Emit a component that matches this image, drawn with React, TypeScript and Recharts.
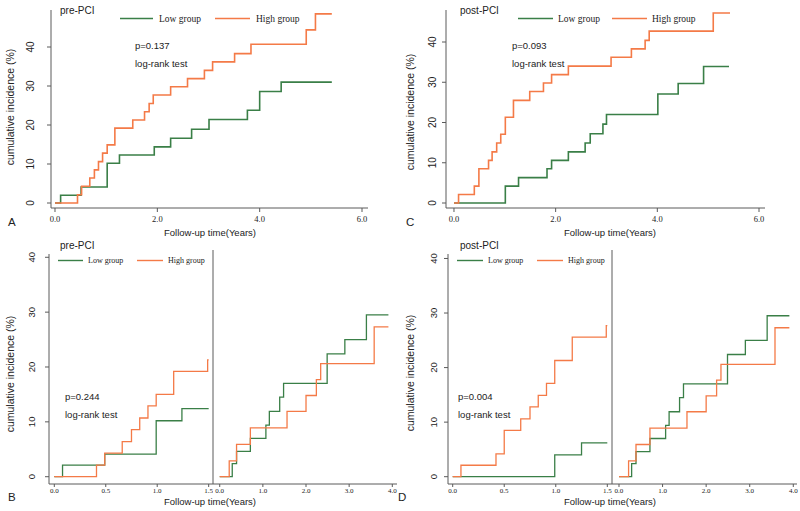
import { LineChart, Line, XAxis, YAxis } from 'recharts'

// A: pre-PCI, whole follow-up
const preLowTime = [0, 0.11, 0.51, 1.02, 1.26, 1.94, 2.26, 2.67, 3.01, 3.76, 4.0, 4.42, 5.41]
const preLowInc = [0, 2.0, 4.1, 10.2, 12.3, 14.4, 16.6, 18.9, 21.4, 23.8, 28.6, 31.0, 31.0]
const preHighTime = [0, 0.44, 0.52, 0.68, 0.77, 0.85, 0.93, 1.02, 1.17, 1.52, 1.75, 1.84, 1.92, 2.26, 2.59, 2.92, 3.08, 3.51, 3.83, 4.91, 5.09, 5.41]
const preHighInc = [0, 2.1, 4.3, 6.4, 8.5, 10.6, 12.8, 14.9, 19.2, 21.3, 23.4, 25.5, 27.7, 29.8, 31.9, 34.0, 36.2, 38.3, 40.7, 44.4, 48.5, 48.5]

// C: post-PCI, whole follow-up
const postLowTime = [0, 1.01, 1.27, 1.83, 1.92, 2.25, 2.58, 2.68, 2.93, 3.0, 4.01, 4.41, 4.91, 5.41]
const postLowInc = [0, 4.2, 6.3, 8.5, 10.6, 12.7, 14.9, 17.2, 19.6, 22.0, 27.1, 29.7, 33.9, 33.9]
const postHighTime = [0, 0.09, 0.4, 0.49, 0.68, 0.75, 0.84, 0.92, 1.01, 1.17, 1.49, 1.76, 1.92, 2.25, 3.09, 3.49, 3.76, 3.84, 5.1, 5.43]
const postHighInc = [0, 2.1, 4.2, 8.5, 10.6, 12.7, 14.9, 17.1, 21.3, 25.5, 27.7, 29.8, 31.9, 34.0, 36.2, 38.3, 40.4, 42.7, 47.2, 47.2]

// B: pre-PCI landmark, first 1.5 years
const preEarlyLowTime = [0, 0.08, 0.49, 0.99, 1.24, 1.5]
const preEarlyLowInc = [0, 2.1, 4.1, 10.2, 12.4, 12.4]
const preEarlyHighTime = [0, 0.41, 0.49, 0.66, 0.75, 0.83, 0.91, 0.99, 1.16, 1.49, 1.5]
const preEarlyHighInc = [0, 2.1, 4.3, 6.4, 8.6, 10.7, 12.9, 15.0, 19.2, 21.3, 21.3]

// D: post-PCI landmark, first 1.5 years
const postEarlyLowTime = [0, 0.99, 1.25, 1.5]
const postEarlyLowInc = [0, 4.0, 6.2, 6.2]
const postEarlyHighTime = [0, 0.08, 0.42, 0.5, 0.66, 0.75, 0.83, 0.91, 0.99, 1.16, 1.49, 1.5]
const postEarlyHighInc = [0, 2.1, 4.2, 8.5, 10.6, 12.8, 14.9, 17.1, 21.3, 25.6, 27.7, 27.7]

// B and D: after the 1.5-year landmark (same curves in both panels)
const lateLowTime = [0, 0.29, 0.39, 0.71, 1.07, 1.15, 1.39, 1.48, 2.49, 2.9, 3.4, 3.91]
const lateLowInc = [0, 2.4, 4.6, 7.0, 9.4, 11.9, 14.5, 17.0, 22.4, 25.0, 29.5, 29.5]
const lateHighTime = [0, 0.22, 0.39, 0.71, 1.56, 2.0, 2.24, 2.34, 3.58, 3.91]
const lateHighInc = [0, 2.9, 5.9, 8.9, 11.9, 14.8, 17.7, 20.6, 27.3, 27.3]

const fullTicks = [0, 2, 4, 6]
const earlyTicks = [0, 0.5, 1, 1.5]
const lateTicks = [0, 1, 2, 3, 4]
const incTicks = [0, 10, 20, 30, 40]

const GREEN = '#3a7f47'
const ORANGE = '#f47a47'
const AXIS = '#5a5a5a'
const INK = '#222'
const SANS = '"Liberation Sans", Arial, sans-serif'
const SERIF = '"Liberation Serif", "Times New Roman", serif'

const toSteps = (t: number[], v: number[]) => t.map((x, i) => ({ t: x, v: v[i] }))

// y tick labels sit parallel to the axis, as in base R plots
function rotatedTick(fs: number) {
  return (props: any) => {
    const { x, y, payload } = props
    return (
      <g transform={`translate(${x},${y})`}>
        <g transform="rotate(-90)">
          <text x={0} y={0} textAnchor="middle" fontSize={fs} fill={INK} fontFamily={SANS}>
            {String(payload.value)}
          </text>
        </g>
      </g>
    )
  }
}

interface PanelProps {
  left: number
  top: number
  width: number
  height: number
  margin: { top: number; right: number; left: number; bottom: number }
  xDomain: [number, number]
  yDomain: [number, number]
  xTicks: number[]
  xHeight: number
  xFont: number
  tickSize: number
  yWidth: number
  yTickMargin?: number
  yFont?: number
  showYTicks: boolean
  low: { t: number; v: number }[]
  high: { t: number; v: number }[]
  lineWidth: number
}

function Panel(p: PanelProps) {
  return (
    <div style={{ position: 'absolute', left: p.left, top: p.top }}>
      <LineChart width={p.width} height={p.height} margin={p.margin}>
        <XAxis type="number" dataKey="t" domain={p.xDomain} ticks={p.xTicks} interval={0}
          allowDataOverflow height={p.xHeight} tickSize={p.tickSize} tickMargin={p.tickSize === 4 ? 4 : 1}
          stroke={AXIS} tickFormatter={(v: number) => v.toFixed(1)}
          tick={{ fontSize: p.xFont, fill: INK, fontFamily: SERIF }} />
        {p.showYTicks ? (
          <YAxis type="number" domain={p.yDomain} ticks={incTicks} interval={0} allowDataOverflow
            width={p.yWidth} tickSize={4} tickMargin={p.yTickMargin} stroke={AXIS}
            tick={rotatedTick(p.yFont ?? 10)} />
        ) : (
          <YAxis type="number" domain={p.yDomain} allowDataOverflow width={p.yWidth}
            tick={false} tickLine={false} stroke={AXIS} />
        )}
        <Line data={p.low} dataKey="v" type="stepAfter" stroke={GREEN} strokeWidth={p.lineWidth}
          dot={false} isAnimationActive={false} />
        <Line data={p.high} dataKey="v" type="stepAfter" stroke={ORANGE} strokeWidth={p.lineWidth}
          dot={false} isAnimationActive={false} />
      </LineChart>
    </div>
  )
}

function Legend({ x, y, fs, gap }: { x: number[]; y: number; fs: number; gap: number }) {
  return (
    <g>
      <line x1={x[0]} x2={x[1]} y1={y} y2={y} stroke={GREEN} strokeWidth={1.4} />
      <text x={x[1] + gap} y={y + fs * 0.32} fontSize={fs} fontFamily={SERIF} fill={INK}>Low group</text>
      <line x1={x[2]} x2={x[3]} y1={y} y2={y} stroke={ORANGE} strokeWidth={1.4} />
      <text x={x[3] + gap} y={y + fs * 0.32} fontSize={fs} fontFamily={SERIF} fill={INK}>High group</text>
    </g>
  )
}

function Labels() {
  const t = { fontFamily: SANS, fill: INK }
  return (
    <svg width={800} height={511} style={{ position: 'absolute', left: 0, top: 0, pointerEvents: 'none' }}>
      {/* A */}
      <text x={60} y={14} fontSize={10} {...t}>pre-PCI</text>
      <Legend x={[120, 153, 215, 250]} y={18.5} fs={9.5} gap={6} />
      <text x={135} y={49} fontSize={9.5} {...t}>p=0.137</text>
      <text x={135} y={67} fontSize={9.5} {...t}>log-rank test</text>
      <text transform="translate(14,107) rotate(-90)" textAnchor="middle" fontSize={10.5} {...t}>cumulative incidence (%)</text>
      <text x={210} y={235.5} textAnchor="middle" fontSize={9.5} {...t}>Follow-up time(Years)</text>
      <text x={8} y={226} fontSize={11.5} {...t}>A</text>
      {/* C */}
      <text x={460} y={14} fontSize={10} {...t}>post-PCI</text>
      <Legend x={[518, 553, 612, 647]} y={18.5} fs={9.5} gap={5} />
      <text x={512} y={49} fontSize={9.5} {...t}>p=0.093</text>
      <text x={512} y={67} fontSize={9.5} {...t}>log-rank test</text>
      <text transform="translate(414,112) rotate(-90)" textAnchor="middle" fontSize={10.5} {...t}>cumulative incidence (%)</text>
      <text x={610} y={235.5} textAnchor="middle" fontSize={9.5} {...t}>Follow-up time(Years)</text>
      <text x={406} y={226} fontSize={11.5} {...t}>C</text>
      {/* B */}
      <text x={60} y={249} fontSize={10} {...t}>pre-PCI</text>
      <Legend x={[58, 83, 137, 163]} y={260.5} fs={8} gap={5} />
      <text x={65} y={400} fontSize={9.5} {...t}>p=0.244</text>
      <text x={65} y={418} fontSize={9.5} {...t}>log-rank test</text>
      <text transform="translate(14,374) rotate(-90)" textAnchor="middle" fontSize={10.5} {...t}>cumulative incidence (%)</text>
      <text x={210} y={505} textAnchor="middle" fontSize={9.5} {...t}>Follow-up time(Years)</text>
      <text x={8} y={501} fontSize={11.5} {...t}>B</text>
      {/* D */}
      <text x={460} y={249} fontSize={10} {...t}>post-PCI</text>
      <Legend x={[457, 483, 537, 563]} y={260.5} fs={8} gap={5} />
      <text x={458} y={400} fontSize={9.5} {...t}>p=0.004</text>
      <text x={458} y={418} fontSize={9.5} {...t}>log-rank test</text>
      <text transform="translate(414,373) rotate(-90)" textAnchor="middle" fontSize={10.5} {...t}>cumulative incidence (%)</text>
      <text x={610} y={505} textAnchor="middle" fontSize={9.5} {...t}>Follow-up time(Years)</text>
      <text x={398} y={501} fontSize={11.5} {...t}>D</text>
    </svg>
  )
}

export default function App() {
  return (
    <div style={{ position: 'absolute', left: 0, top: 0, width: 800, height: 511, background: '#fff', overflow: 'hidden' }}>
      <Panel left={0} top={0} width={400} height={240} margin={{ top: 10, right: 32, left: 0, bottom: 0 }}
        xDomain={[-0.078, 6.117]} yDomain={[-1.28, 49.49]} xTicks={fullTicks} xHeight={32} xFont={8.5}
        tickSize={4} yWidth={51} yTickMargin={13} yFont={10} showYTicks
        low={toSteps(preLowTime, preLowInc)} high={toSteps(preHighTime, preHighInc)} lineWidth={1.6} />
      <Panel left={400} top={0} width={400} height={240} margin={{ top: 10, right: 35, left: 0, bottom: 0 }}
        xDomain={[-0.157, 6.118]} yDomain={[-1.24, 47.95]} xTicks={fullTicks} xHeight={32} xFont={8.5}
        tickSize={4} yWidth={46} yTickMargin={6} yFont={10} showYTicks
        low={toSteps(postLowTime, postLowInc)} high={toSteps(postHighTime, postHighInc)} lineWidth={1.6} />
      <Panel left={0} top={240} width={213} height={271} margin={{ top: 14, right: 0, left: 0, bottom: 0 }}
        xDomain={[-0.0515, 1.542]} yDomain={[-1.33, 40.6]} xTicks={earlyTicks} xHeight={27} xFont={7}
        tickSize={3} yWidth={49} yTickMargin={10} yFont={9.5} showYTicks
        low={toSteps(preEarlyLowTime, preEarlyLowInc)} high={toSteps(preEarlyHighTime, preEarlyHighInc)} lineWidth={1.3} />
      <Panel left={208} top={240} width={192} height={271} margin={{ top: 10, right: 3, left: 0, bottom: 0 }}
        xDomain={[-0.156, 4.109]} yDomain={[-1.33, 41.33]} xTicks={lateTicks} xHeight={27} xFont={7}
        tickSize={3} yWidth={5} showYTicks={false}
        low={toSteps(lateLowTime, lateLowInc)} high={toSteps(lateHighTime, lateHighInc)} lineWidth={1.3} />
      <Panel left={400} top={240} width={212} height={271} margin={{ top: 14, right: 0, left: 0, bottom: 0 }}
        xDomain={[-0.0456, 1.5456]} yDomain={[-1.34, 40.82]} xTicks={earlyTicks} xHeight={27} xFont={7}
        tickSize={3} yWidth={48} yTickMargin={7} yFont={9.5} showYTicks
        low={toSteps(postEarlyLowTime, postEarlyLowInc)} high={toSteps(postEarlyHighTime, postEarlyHighInc)} lineWidth={1.3} />
      <Panel left={607} top={240} width={193} height={271} margin={{ top: 10, right: 3, left: 0, bottom: 0 }}
        xDomain={[-0.1606, 4.085]} yDomain={[-1.34, 41.55]} xTicks={lateTicks} xHeight={27} xFont={7}
        tickSize={3} yWidth={5} showYTicks={false}
        low={toSteps(lateLowTime, lateLowInc)} high={toSteps(lateHighTime, lateHighInc)} lineWidth={1.3} />
      <Labels />
    </div>
  )
}
